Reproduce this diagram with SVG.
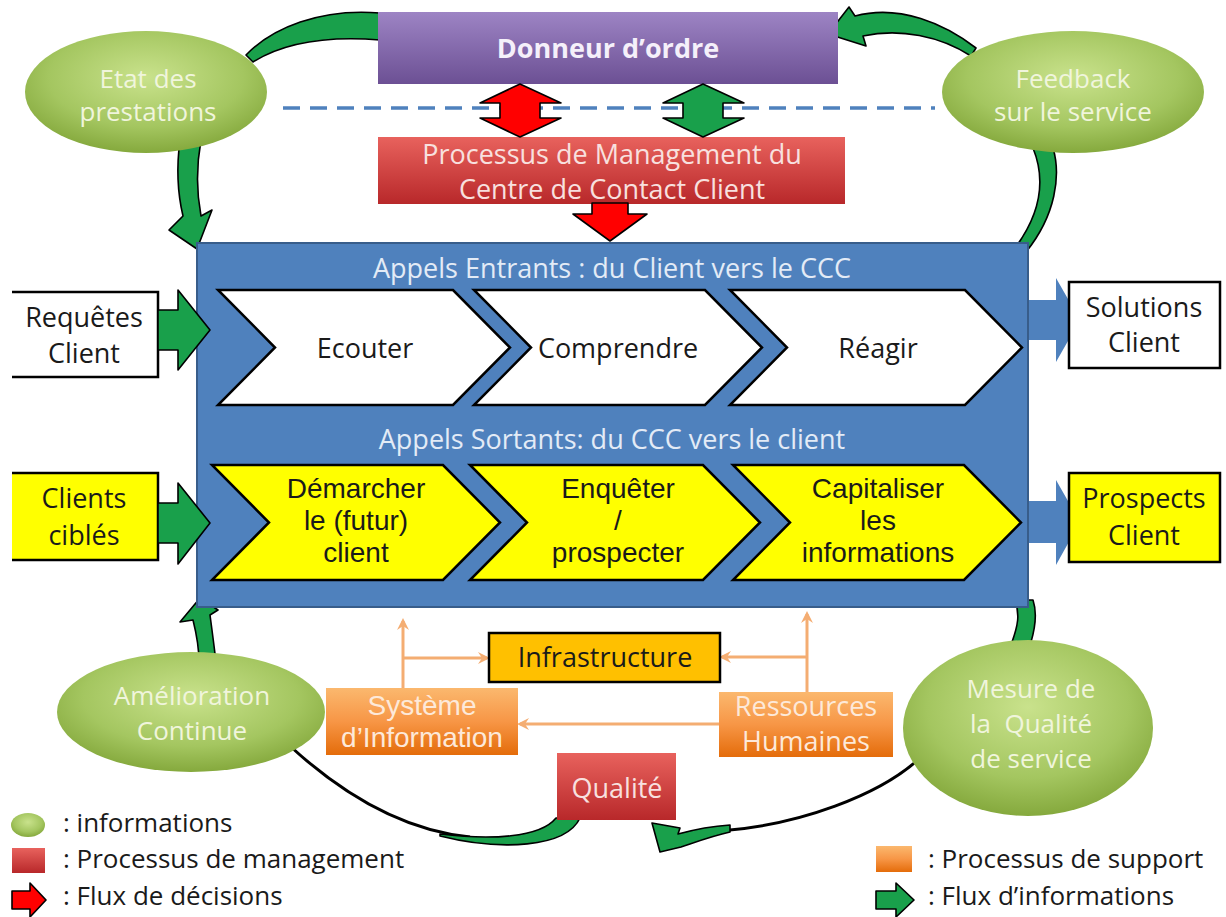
<svg xmlns="http://www.w3.org/2000/svg" width="1226" height="917" viewBox="0 0 1226 917">
<defs>
<style>
.t{font-family:"Open Sans","Liberation Sans",sans-serif;text-anchor:middle;font-size:27px}
.ls{font-family:"Liberation Sans",Arial,sans-serif;font-size:28px}
.e{font-size:26px}
.dk{fill:#1a1a1a}
.lg{fill:#f0f5dc}
.lb{fill:#e3ebf6}
.lr{fill:#f8e0df}
.lo{fill:#fde9d9}
.leg{font-family:"Open Sans","Liberation Sans",sans-serif;font-size:26px;fill:#1a1a1a}
.gar{fill:#19a04b;stroke:#000;stroke-width:1.6;stroke-linejoin:round}
.rar{fill:#ff0000;stroke:#000;stroke-width:1.6;stroke-linejoin:round}
.chw{fill:#fff;stroke:#000;stroke-width:2.5;stroke-linejoin:miter}
.chy{fill:#ffff00;stroke:#000;stroke-width:2.5;stroke-linejoin:miter}
.ol{stroke:#f4ad72;stroke-width:3;fill:none}
.bk{stroke:#000;stroke-width:3;fill:none}
</style>
<radialGradient id="gEll" cx="50%" cy="38%" r="62%">
<stop offset="0" stop-color="#c9e28c"/>
<stop offset="0.65" stop-color="#a4c660"/>
<stop offset="1" stop-color="#85a93d"/>
</radialGradient>
<linearGradient id="gPur" x1="0" y1="0" x2="0" y2="1">
<stop offset="0" stop-color="#9d84c4"/>
<stop offset="1" stop-color="#6c5094"/>
</linearGradient>
<linearGradient id="gRed" x1="0" y1="0" x2="0" y2="1">
<stop offset="0" stop-color="#e8625d"/>
<stop offset="1" stop-color="#b8282a"/>
</linearGradient>
<linearGradient id="gOr" x1="0" y1="0" x2="0" y2="1">
<stop offset="0" stop-color="#fbb86e"/>
<stop offset="0.5" stop-color="#f79646"/>
<stop offset="1" stop-color="#e46c0a"/>
</linearGradient>
<marker id="oa" markerWidth="12" markerHeight="12" refX="9" refY="6" orient="auto" markerUnits="userSpaceOnUse">
<path d="M0,0 L12,6 L0,12 L4,6 Z" fill="#f4ad72"/>
</marker>
</defs>
<rect width="1226" height="917" fill="#fff"/>

<g id="connectors">
<line x1="283" y1="108" x2="935" y2="108" stroke="#4f81bd" stroke-width="3.5" stroke-dasharray="17 10"/>
<path class="gar" d="M380,13 C320,8 272,28 246,55 L253,62 C285,42 330,36 380,40 Z"/>
<path class="gar" d="M180,140 C176,170 178,195 183,216 L169,230 L197,249 L212,210 L201,216 C197,195 196,168 201,140 Z"/>
<path class="gar" d="M828,34 L849,7 L855,16 C900,4 945,24 976,48 L971,56 C940,36 900,28 863,36 L866,46 Z"/>
<path class="gar" d="M1033,148 C1046,180 1041,215 1012,252 L1026,252 C1056,215 1061,175 1053,148 Z"/>
<path class="gar" d="M200,598 L218,610 L210,615 C212,630 214,645 216,662 L199,662 C199,645 196,632 193,620 L180,622 Z"/>
<path class="gar" d="M1015,600 C1020,615 1018,625 1012,642 L1031,642 C1036,625 1037,612 1033,600 Z"/>
<path class="bk" d="M290,746 C340,792 400,830 470,837"/>
<path class="gar" d="M440,834 C490,840 540,838 556,818 L580,818 C566,848 500,851 440,836 Z"/>
<path class="bk" d="M920,758 C880,795 800,825 720,831"/>
<path class="gar" d="M652,823 L680,828 L678,834 C700,828 715,826 730,825 L730,832 C712,836 696,842 681,847 L660,852 Z"/>
<path class="ol" d="M403,690 L403,621" marker-end="url(#oa)"/>
<path class="ol" d="M403,658 L487,658" marker-end="url(#oa)"/>
<path class="ol" d="M807,692 L807,614" marker-end="url(#oa)"/>
<path class="ol" d="M807,657 L722,657" marker-end="url(#oa)"/>
<path class="ol" d="M719,724 L520,724" marker-end="url(#oa)"/>
<path fill="#4f81bd" d="M1028,300 L1056,300 L1056,278 L1080,320 L1056,362 L1056,340 L1028,340 Z"/>
<path fill="#4f81bd" d="M1028,501 L1056,501 L1056,480 L1080,522 L1056,565 L1056,543 L1028,543 Z"/>
</g>

<g id="ccc">
<rect x="197" y="243" width="831" height="364" fill="#4f81bd" stroke="#385d8a" stroke-width="2"/>
<text class="t lb" x="612" y="278">Appels Entrants : du Client vers le CCC</text>
<text class="t lb" x="612" y="449">Appels Sortants: du CCC vers le client</text>
</g>

<g id="ecouter"><path class="chw" d="M218,290 L453,290 L510,347.5 L453,405 L218,405 L275,347.5 Z"/><text class="t dk" x="365" y="358">Ecouter</text></g>
<g id="comprendre"><path class="chw" d="M474,290 L705,290 L762,347.5 L705,405 L474,405 L531,347.5 Z"/><text class="t dk" x="618" y="358">Comprendre</text></g>
<g id="reagir"><path class="chw" d="M730,290 L965,290 L1022,347.5 L965,405 L730,405 L787,347.5 Z"/><text class="t dk" x="878" y="358">Réagir</text></g>

<g id="demarcher"><path class="chy" d="M212,465 L443,465 L500,522.5 L443,580 L212,580 L269,522.5 Z"/>
<text class="t ls dk" x="356" y="498">Démarcher</text><text class="t ls dk" x="356" y="530">le (futur)</text><text class="t ls dk" x="356" y="562">client</text></g>
<g id="enqueter"><path class="chy" d="M470,465 L703,465 L760,522.5 L703,580 L470,580 L527,522.5 Z"/>
<text class="t ls dk" x="618" y="498">Enquêter</text><text class="t ls dk" x="618" y="530">/</text><text class="t ls dk" x="618" y="562">prospecter</text></g>
<g id="capitaliser"><path class="chy" d="M733,465 L964,465 L1021,522.5 L964,580 L733,580 L790,522.5 Z"/>
<text class="t ls dk" x="878" y="498">Capitaliser</text><text class="t ls dk" x="878" y="530">les</text><text class="t ls dk" x="878" y="562">informations</text></g>

<g id="donneur">
<rect x="378" y="12" width="460" height="72" fill="url(#gPur)"/>
<text class="t" x="608" y="58" font-weight="bold" font-size="29" fill="#f5f0fa">Donneur d’ordre</text>
</g>
<g id="management">
<rect x="378" y="137" width="467" height="67" fill="url(#gRed)"/>
<text class="t lr" x="612" y="164">Processus de Management du</text>
<text class="t lr" x="612" y="199">Centre de Contact Client</text>
</g>
<g id="flows-top">
<path class="rar" d="M520,84 L561,103 L540,103 L540,118 L561,118 L520,137 L480,118 L500,118 L500,103 L480,103 Z"/>
<path class="gar" d="M703,84 L744,103 L723,103 L723,118 L744,118 L703,137 L663,118 L683,118 L683,103 L663,103 Z"/>
<path class="rar" d="M592,203 L628,203 L628,214 L647,214 L610,241 L573,214 L592,214 Z"/>
</g>

<g id="requetes">
<rect x="12" y="292" width="146" height="85" fill="#fff"/>
<path d="M12,292 L158,292 L158,377 L12,377" fill="none" stroke="#000" stroke-width="2.5"/>
<text class="t dk" x="84" y="327">Requêtes</text><text class="t dk" x="84" y="363">Client</text>
<path class="gar" d="M158,310 L178,310 L178,290 L210,330 L178,370 L178,350 L158,350 Z"/>
</g>
<g id="cibles">
<rect x="12" y="473" width="146" height="87" fill="#ffff00"/>
<path d="M12,473 L158,473 L158,560 L12,560" fill="none" stroke="#000" stroke-width="2.5"/>
<text class="t dk" x="84" y="508">Clients</text><text class="t dk" x="84" y="545">ciblés</text>
<path class="gar" d="M158,503 L178,503 L178,483 L210,523 L178,564 L178,543 L158,543 Z"/>
</g>
<g id="solutions">
<rect x="1069" y="282" width="151" height="86" fill="#fff" stroke="#000" stroke-width="2.5"/>
<text class="t dk" x="1144" y="317">Solutions</text><text class="t dk" x="1144" y="352">Client</text>
</g>
<g id="prospects">
<rect x="1069" y="473" width="151" height="89" fill="#ffff00" stroke="#000" stroke-width="2.5"/>
<text class="t dk" x="1144" y="508">Prospects</text><text class="t dk" x="1144" y="545">Client</text>
</g>

<g id="infrastructure">
<rect x="489" y="633" width="231" height="49" fill="#ffc000" stroke="#000" stroke-width="2.5"/>
<text class="t dk" x="605" y="667">Infrastructure</text>
</g>
<g id="si">
<rect x="326" y="688" width="192" height="67" fill="url(#gOr)"/>
<text class="t ls lo" x="422" y="715" font-size="27">Système</text>
<text class="t ls lo" x="422" y="747" font-size="27">d’Information</text>
</g>
<g id="rh">
<rect x="719" y="692" width="174" height="65" fill="url(#gOr)"/>
<text class="t lo" x="806" y="716">Ressources</text>
<text class="t lo" x="806" y="751">Humaines</text>
</g>
<g id="qualite">
<rect x="557" y="753" width="119" height="67" fill="url(#gRed)"/>
<text class="t lr" x="617" y="798">Qualité</text>
</g>

<g id="etat">
<ellipse cx="146" cy="92" rx="121" ry="61" fill="url(#gEll)"/>
<text class="t e lg" x="148" y="88">Etat des</text><text class="t e lg" x="148" y="121">prestations</text>
</g>
<g id="feedback">
<ellipse cx="1073" cy="92" rx="131" ry="61" fill="url(#gEll)"/>
<text class="t e lg" x="1073" y="88">Feedback</text><text class="t e lg" x="1073" y="121">sur le service</text>
</g>
<g id="amelioration">
<ellipse cx="191" cy="712" rx="134" ry="60" fill="url(#gEll)"/>
<text class="t e lg" x="192" y="705">Amélioration</text><text class="t e lg" x="192" y="740">Continue</text>
</g>
<g id="mesure">
<ellipse cx="1028" cy="728" rx="125" ry="88" fill="url(#gEll)"/>
<text class="t e lg" x="1031" y="698">Mesure de</text><text class="t e lg" x="1031" y="733" xml:space="preserve">la  Qualité</text><text class="t e lg" x="1031" y="768">de service</text>
</g>

<g id="legend">
<ellipse cx="28" cy="825" rx="17" ry="12" fill="url(#gEll)"/>
<text class="leg" x="63" y="832">: informations</text>
<rect x="12" y="848" width="33" height="25" fill="url(#gRed)"/>
<text class="leg" x="63" y="868">: Processus de management</text>
<path class="rar" d="M12,891 L30,891 L30,883 L46,900 L30,917 L30,909 L12,909 Z"/>
<text class="leg" x="63" y="905">: Flux de décisions</text>
<rect x="876" y="846" width="36" height="26" fill="url(#gOr)"/>
<text class="leg" x="928" y="868">: Processus de support</text>
<path class="gar" d="M876,891 L896,891 L896,883 L914,900 L896,917 L896,909 L876,909 Z"/>
<text class="leg" x="928" y="905">: Flux d’informations</text>
</g>
</svg>
